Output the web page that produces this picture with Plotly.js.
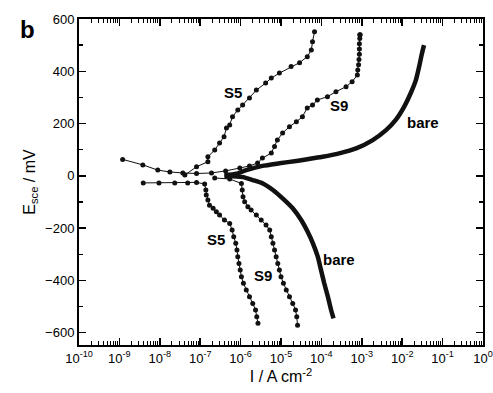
<!DOCTYPE html>
<html>
<head>
<meta charset="utf-8">
<script src="https://cdn.plot.ly/plotly-3.0.1.min.js"></script>
<style>html,body{margin:0;padding:0;background:#fff;}#chart{width:493px;height:393px;}</style>
</head>
<body>
<div id="chart"></div>
<script>
// log10(I / A cm^-2) and E (mV vs SCE)
const s5AnodLogI = [-7.38,-7.09,-6.81,-6.81,-6.64,-6.52,-6.41,-6.35,-6.27,-6.20,-6.07,-5.95,-5.78,-5.61,-5.38,-5.24,-5.04,-4.75,-4.54,-4.35,-4.25,-4.22,-4.17];
const s5AnodE    = [3,35,54,73,99,126,150,183,195,226,252,271,298,328,355,374,393,418,433,456,481,513,551];

const s5CathLogI = [-8.41,-8.02,-7.63,-7.31,-7.09,-6.89,-6.86,-6.85,-6.81,-6.77,-6.68,-6.60,-6.52,-6.40,-6.27,-6.21,-6.17,-6.12,-6.09,-6.07,-6.04,-6.01,-5.98,-5.93,-5.86,-5.78,-5.70,-5.63,-5.60,-5.57];
const s5CathE    = [-27,-27,-27,-27,-25,-31,-54,-73,-92,-112,-124,-137,-150,-169,-182,-207,-233,-258,-284,-309,-335,-360,-386,-411,-437,-462,-488,-513,-539,-564];

const s9AnodLogI = [-8.92,-8.42,-8.05,-7.75,-7.43,-7.09,-6.72,-6.37,-6.02,-5.78,-5.58,-5.46,-5.24,-5.16,-5.09,-4.96,-4.79,-4.62,-4.47,-4.35,-4.22,-4.10,-3.85,-3.64,-3.39,-3.24,-3.11,-3.10,-3.08,-3.07,-3.06,-3.06,-3.06,-3.05,-3.05,-3.04];
const s9AnodE    = [63,42,22,15,11,9,11,19,30,38,49,68,87,112,137,164,188,207,226,260,271,290,303,322,341,360,386,405,425,445,465,485,505,525,540,540];

const s9CathLogI = [-6.64,-6.27,-5.98,-5.96,-5.94,-5.90,-5.82,-5.74,-5.61,-5.49,-5.37,-5.28,-5.24,-5.20,-5.16,-5.12,-5.08,-5.04,-5.00,-4.94,-4.87,-4.79,-4.71,-4.64,-4.61,-4.59];
const s9CathE    = [-8,-12,-29,-54,-80,-99,-118,-131,-150,-169,-188,-207,-233,-258,-284,-309,-335,-360,-386,-411,-437,-462,-488,-513,-539,-571];

const bareAnodLogI = [-6.40,-6.10,-5.86,-5.46,-5.04,-4.62,-4.21,-3.97,-3.56,-3.14,-2.73,-2.40,-2.16,-1.95,-1.79,-1.66,-1.58,-1.51,-1.46];
const bareAnodE    = [2,8,22,38,48,57,67,73,86,105,137,175,214,265,316,367,418,469,500];

const bareCathLogI = [-6.40,-6.10,-5.94,-5.70,-5.45,-5.20,-4.96,-4.71,-4.50,-4.34,-4.21,-4.09,-4.01,-3.93,-3.84,-3.76,-3.70];
const bareCathE    = [-2,-2,-5,-16,-29,-54,-86,-124,-169,-214,-258,-309,-360,-411,-462,-513,-545];

const decadeExps = [-10,-9,-8,-7,-6,-5,-4,-3,-2,-1,0];
const minorMult = [2,3,4,5,6,7,8,9];
const labels = [
  {text:'S5', logI:-6.20, E:318},
  {text:'S9', logI:-3.56, E:270},
  {text:'bare', logI:-1.48, E:205},
  {text:'S5', logI:-6.62, E:-245},
  {text:'S9', logI:-5.45, E:-383},
  {text:'bare', logI:-3.56, E:-320}
];

const pow = a => a.map(v => Math.pow(10, v));
const minorVals = [];
decadeExps.slice(0, -1).forEach(e => minorMult.forEach(m => minorVals.push(m * Math.pow(10, e))));

function dotted(name, lx, e) {
  return {x: pow(lx), y: e, name: name, type:'scatter', mode:'lines+markers',
    line:{color:'#111', width:1}, marker:{color:'#111', size:5}, showlegend:false};
}
function thick(name, lx, e) {
  return {x: pow(lx), y: e, name: name, type:'scatter', mode:'lines',
    line:{color:'#111', width:4.5, shape:'spline', smoothing:0.6}, showlegend:false};
}
const traces = [
  thick('bare anodic', bareAnodLogI, bareAnodE),
  thick('bare cathodic', bareCathLogI, bareCathE),
  dotted('S5 anodic', s5AnodLogI, s5AnodE),
  dotted('S5 cathodic', s5CathLogI, s5CathE),
  dotted('S9 anodic', s9AnodLogI, s9AnodE),
  dotted('S9 cathodic', s9CathLogI, s9CathE)
];

const font = {family:'Liberation Sans, Arial, sans-serif', color:'#000'};
const annotations = labels.map(l => ({x:l.logI, y:l.E, xref:'x', yref:'y', text:'<b>'+l.text+'</b>',
  showarrow:false, font:Object.assign({}, font, {size:15})}));
annotations.push({x:(18-79)/404, y:(345-14)/326, xref:'paper', yref:'paper', text:'<b>b</b>', showarrow:false,
  font:Object.assign({}, font, {size:24})});

const layout = {
  width:493, height:393,
  margin:{l:79, r:10, t:19, b:48},
  paper_bgcolor:'#fff', plot_bgcolor:'#fff',
  font: Object.assign({}, font, {size:13}),
  showlegend:false,
  xaxis:{type:'log', range:[-10, 0], tickmode:'array', tickvals:pow(decadeExps),
    ticktext:decadeExps.map(e => '10<sup>'+e+'</sup>'),
    ticklabeloverflow:'allow',
    ticks:'inside', ticklen:7, tickwidth:1.5, tickcolor:'#000',
    minor:{tickmode:'array', tickvals:minorVals, ticks:'inside', ticklen:4, tickwidth:1, tickcolor:'#000', showgrid:false},
    showline:true, linecolor:'#000', linewidth:2, mirror:'ticks',
    showgrid:false, zeroline:false, tickfont:Object.assign({}, font, {size:13}),
    title:{text:'I / A cm<sup>-2</sup>', font:Object.assign({}, font, {size:16}), standoff:4}},
  yaxis:{range:[-647,600], tickvals:[-600,-400,-200,0,200,400,600],
    ticks:'inside', ticklen:7, tickwidth:1.5, tickcolor:'#000',
    minor:{ticks:'inside', ticklen:4, tickcolor:'#000', dtick:100, tick0:0, showgrid:false},
    showline:true, linecolor:'#000', linewidth:2, mirror:'ticks',
    showgrid:false, zeroline:false, tickfont:Object.assign({}, font, {size:13}),
    title:{text:'E<sub>sce</sub> / mV', font:Object.assign({}, font, {size:16}), standoff:6}},
  annotations: annotations
};
Plotly.newPlot('chart', traces, layout, {staticPlot:true, displayModeBar:false});
</script>
</body>
</html>
